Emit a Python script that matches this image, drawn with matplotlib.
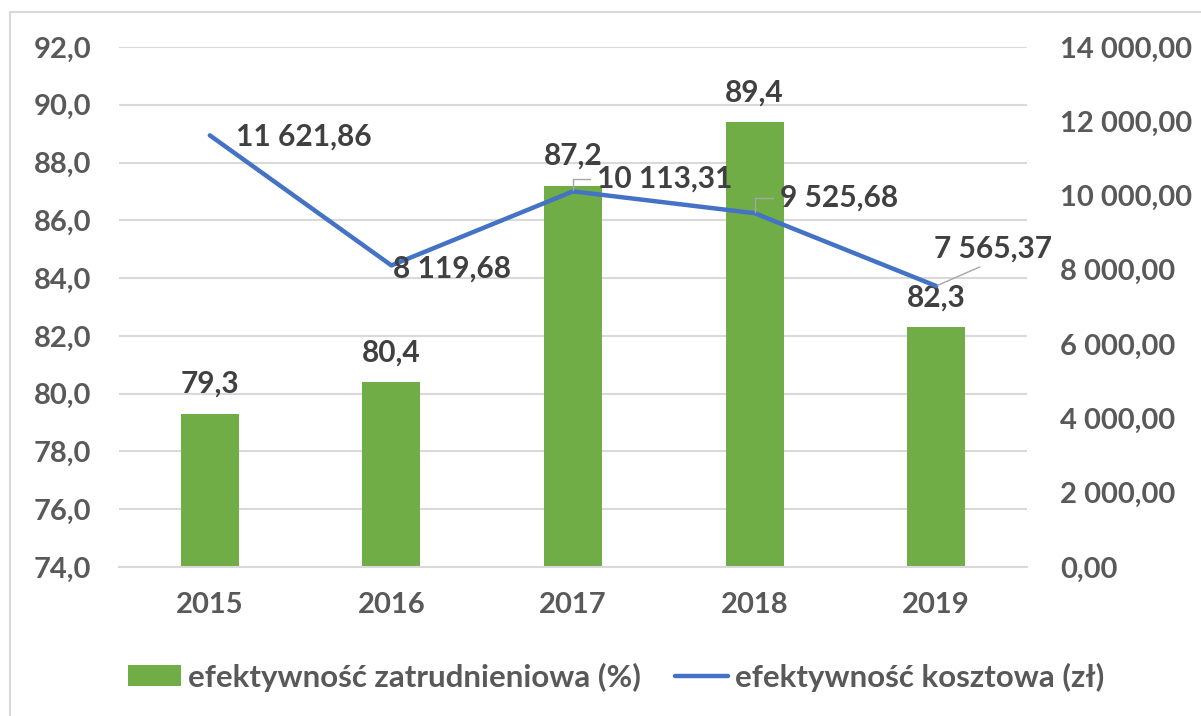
import matplotlib
matplotlib.use("Agg")
import matplotlib.pyplot as plt
from matplotlib.patches import Rectangle

years = ["2015", "2016", "2017", "2018", "2019"]
employment_eff = [79.3, 80.4, 87.2, 89.4, 82.3]
cost_eff = [11621.86, 8119.68, 10113.31, 9525.68, 7565.37]
left_ticks = [74, 76, 78, 80, 82, 84, 86, 88, 90, 92]
right_ticks = [0, 2000, 4000, 6000, 8000, 10000, 12000, 14000]
bar_label = "efektywność zatrudnieniowa (%)"
line_label = "efektywność kosztowa (zł)"

plt.rcParams['font.family'] = ['Lato', 'DejaVu Sans']

GREEN = "#70AD47"
BLUE = "#4472C4"
TICK = "#595959"
LAB = "#404040"
GRID = "#D9D9D9"

def pl(v, dec):
    s = f"{v:,.{dec}f}"
    return s.replace(",", " ").replace(".", ",")

fig = plt.figure(figsize=(12.01, 7.16), dpi=100)
ax = fig.add_axes([119/1201, 1-567/716, (1027-119)/1201, (567-47)/716])
ax2 = ax.twinx()

x = list(range(len(years)))
bars = ax.bar(x, employment_eff, width=0.32, color=GREEN, zorder=2, label=bar_label)
ax.set_ylim(74, 92)
ax.set_xlim(-0.5, 4.5)
ax.set_yticks(left_ticks)
ax.set_yticklabels([pl(t, 1) for t in left_ticks])
ax.set_xticks(x)
ax.set_xticklabels(years)
ax.grid(axis='y', color=GRID, lw=1.5, zorder=0)
ax.set_axisbelow(True)
for s in ["top", "right", "left"]:
    ax.spines[s].set_visible(False)
ax.spines["bottom"].set_color(GRID)
ax.spines["bottom"].set_linewidth(1.5)
ax.tick_params(axis='y', length=0, pad=20, labelsize=21, labelcolor=TICK)
ax.tick_params(axis='x', length=0, pad=18, labelsize=21, labelcolor=TICK)
for t in ax.get_xticklabels() + ax.get_yticklabels():
    t.set_fontweight('bold')

line, = ax2.plot(x, cost_eff, color=BLUE, lw=3.2, zorder=3, label=line_label,
                 solid_capstyle='round')
ax2.set_ylim(0, 14000)
ax2.set_yticks(right_ticks)
ax2.set_yticklabels([pl(t, 2) for t in right_ticks])
for s in ["top", "right", "left", "bottom"]:
    ax2.spines[s].set_visible(False)
ax2.tick_params(axis='y', length=0, pad=24, labelsize=21, labelcolor=TICK)
for t in ax2.get_yticklabels():
    t.set_fontweight('bold')

# bar labels
for xi, v in zip(x, employment_eff):
    ax.annotate(pl(v, 1), (xi, v), xytext=(0, 21.5), textcoords='offset points',
                ha='center', va='center', fontsize=21.5, fontweight='bold', color=LAB)

# line labels
lab_kw = dict(textcoords='offset points', fontsize=21.5, fontweight='bold', color=LAB,
              zorder=5)
ax2.annotate(pl(cost_eff[0], 2), (0, cost_eff[0]), xytext=(19, -1), ha='left', va='center', **lab_kw)
ax2.annotate(pl(cost_eff[1], 2), (1, cost_eff[1]), xytext=(1, -2), ha='left', va='center', **lab_kw)
elbow = dict(arrowstyle='-', color='#A6A6A6', lw=1,
             connectionstyle='angle,angleA=0,angleB=90,rad=0', relpos=(0, 0.5),
             shrinkA=3, shrinkB=1)
ax2.annotate(pl(cost_eff[2], 2), (2, cost_eff[2]), xytext=(17, 9), ha='left', va='center',
             arrowprops=elbow, **lab_kw)
ax2.annotate(pl(cost_eff[3], 2), (3, cost_eff[3]), xytext=(18, 11), ha='left', va='center',
             arrowprops=elbow, **lab_kw)
ax2.annotate(pl(cost_eff[4], 2), (4, cost_eff[4]), xytext=(41, 27), ha='center', va='center',
             arrowprops=dict(arrowstyle='-', color='#A6A6A6', lw=1, relpos=(0.5, 0.05),
                             shrinkA=3, shrinkB=1), **lab_kw)

leg = fig.legend(handles=[bars, line], loc='center', bbox_to_anchor=(616/1201, 1-677/716),
                 ncol=2, frameon=False, fontsize=22.5, handlelength=1.7, handleheight=0.62,
                 handletextpad=0.22, columnspacing=1.1, borderaxespad=0)
for t in leg.get_texts():
    t.set_color(TICK)
    t.set_fontweight('bold')

fig.patches.append(Rectangle((10/1201, -0.05), 1.05, 1-12/716 + 0.05, transform=fig.transFigure,
                             fill=False, edgecolor=GRID, lw=1.5))

fig.savefig("out.png", dpi=100)
